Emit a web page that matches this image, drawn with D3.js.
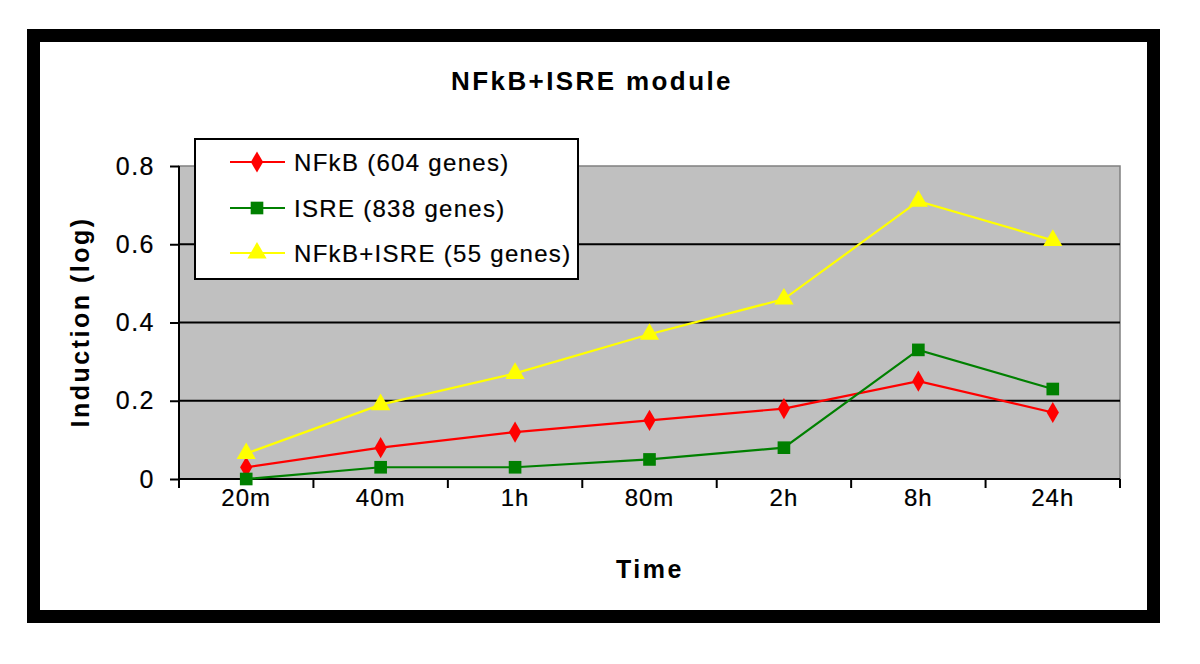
<!DOCTYPE html>
<html>
<head>
<meta charset="utf-8">
<script src="https://cdn.jsdelivr.net/npm/d3@7"></script>
<style>
  html, body { margin: 0; padding: 0; background: #ffffff; }
  svg { display: block; }
  text { font-family: "Liberation Sans", Arial, sans-serif; }
</style>
</head>
<body>
<svg id="chart" width="1200" height="664"></svg>
<script>
// ---- Data ----
const categories = ["20m", "40m", "1h", "80m", "2h", "8h", "24h"];
const nfkbValues = [0.03, 0.08, 0.12, 0.15, 0.18, 0.25, 0.17];
const isreValues = [0.0, 0.03, 0.03, 0.05, 0.08, 0.33, 0.23];
const bothValues = [0.065, 0.19, 0.27, 0.37, 0.46, 0.71, 0.61];
const yTickValues = [0, 0.2, 0.4, 0.6, 0.8];
const seriesNames = ["NFkB (604 genes)", "ISRE (838 genes)", "NFkB+ISRE (55 genes)"];
const chartTitle = "NFkB+ISRE module";
const xTitle = "Time";
const yTitle = "Induction (log)";

// ---- Layout ----
const W = 1200, H = 664;
const plot = { left: 179, right: 1120, top: 166, bottom: 479 };

const svg = d3.select("#chart");

svg.append("rect").attr("x", 0).attr("y", 0).attr("width", W).attr("height", H).attr("fill", "#ffffff");

// outer black frame
svg.append("rect")
  .attr("x", 33.5).attr("y", 35.5).attr("width", 1120).attr("height", 581)
  .attr("fill", "none").attr("stroke", "#000").attr("stroke-width", 13);

const x = d3.scaleBand().domain(categories).range([plot.left, plot.right]).padding(0);
const y = d3.scaleLinear().domain([0, 0.8]).range([plot.bottom, plot.top]);
const cx = d => x(d) + x.bandwidth() / 2;

// plot area
svg.append("rect")
  .attr("x", plot.left).attr("y", plot.top)
  .attr("width", plot.right - plot.left).attr("height", plot.bottom - plot.top)
  .attr("fill", "#c0c0c0").attr("stroke", "#808080").attr("stroke-width", 1.5);

// gridlines
svg.append("g").selectAll("line")
  .data(yTickValues.filter(v => v > 0 && v < 0.8))
  .join("line")
  .attr("x1", plot.left).attr("x2", plot.right)
  .attr("y1", d => y(d)).attr("y2", d => y(d))
  .attr("stroke", "#000").attr("stroke-width", 2);

const normalText = sel => sel
  .attr("fill", "#000").attr("stroke", "#000").attr("stroke-width", 0.2)
  .style("font-family", "'Liberation Sans', Arial, sans-serif");

// y axis
const yAxis = svg.append("g")
  .attr("transform", `translate(${plot.left},0)`)
  .call(d3.axisLeft(y).tickValues(yTickValues).tickFormat(d3.format("")).tickSize(9).tickPadding(15));
yAxis.select(".domain").attr("stroke", "#000").attr("stroke-width", 2).attr("d", `M0,${plot.top}V${plot.bottom}`);
yAxis.selectAll(".tick line").attr("stroke", "#000").attr("stroke-width", 2);
yAxis.selectAll(".tick text").call(normalText)
  .style("font-size", "25px").style("letter-spacing", "1.5px");

// x axis
const xAxis = svg.append("g")
  .attr("transform", `translate(0,${plot.bottom})`)
  .call(d3.axisBottom(x).tickSize(0).tickPadding(10));
xAxis.select(".domain").attr("stroke", "#000").attr("stroke-width", 2).attr("d", `M${plot.left},0H${plot.right}`);
xAxis.selectAll(".tick text").call(normalText)
  .style("font-size", "24px").style("letter-spacing", "1px");
// category boundary ticks
const bounds = categories.map(c => x(c)).concat([plot.right]);
xAxis.append("g").selectAll("line").data(bounds).join("line")
  .attr("x1", d => d).attr("x2", d => d).attr("y1", 0).attr("y2", 9)
  .attr("stroke", "#000").attr("stroke-width", 2);

// series
const series = [
  { name: seriesNames[0], values: nfkbValues, color: "#ff0000", shape: d3.symbolDiamond, size: 130 },
  { name: seriesNames[1], values: isreValues, color: "#008000", shape: d3.symbolSquare, size: 160 },
  { name: seriesNames[2], values: bothValues, color: "#ffff00", shape: d3.symbolTriangle, size: 160 }
];

const line = d3.line().x((d, i) => cx(categories[i])).y(d => y(d));

series.forEach(s => {
  svg.append("path").datum(s.values)
    .attr("d", line).attr("fill", "none").attr("stroke", s.color).attr("stroke-width", 2.2);
});
series.forEach(s => {
  svg.append("g").selectAll("path").data(s.values).join("path")
    .attr("transform", (d, i) => `translate(${cx(categories[i])},${y(d)})`)
    .attr("d", d3.symbol().type(s.shape).size(s.size))
    .attr("fill", s.color);
});

// legend
const lg = svg.append("g");
lg.append("rect").attr("x", 195).attr("y", 139).attr("width", 383).attr("height", 140)
  .attr("fill", "#ffffff").attr("stroke", "#000").attr("stroke-width", 2);
const rowY = [162, 208, 253];
series.forEach((s, i) => {
  lg.append("line").attr("x1", 230).attr("x2", 285).attr("y1", rowY[i]).attr("y2", rowY[i])
    .attr("stroke", s.color).attr("stroke-width", 2.2);
  lg.append("path").attr("transform", `translate(257,${rowY[i]})`)
    .attr("d", d3.symbol().type(s.shape).size(s.size)).attr("fill", s.color);
  lg.append("text").attr("x", 294).attr("y", rowY[i]).attr("dy", "0.36em")
    .call(normalText)
    .style("font-size", "24px").style("letter-spacing", "1.3px")
    .text(s.name);
});

// titles
const boldText = sel => sel.attr("fill", "#000").style("font-weight", "bold")
  .style("font-family", "'Liberation Sans', Arial, sans-serif");
svg.append("text").attr("x", 592).attr("y", 90).attr("text-anchor", "middle")
  .call(boldText).style("font-size", "26px").style("letter-spacing", "2.4px")
  .text(chartTitle);
svg.append("text").attr("x", 650).attr("y", 578).attr("text-anchor", "middle")
  .call(boldText).style("font-size", "25px").style("letter-spacing", "2.5px")
  .text(xTitle);
svg.append("text").attr("transform", "translate(89,322) rotate(-90)").attr("text-anchor", "middle")
  .call(boldText).style("font-size", "25px").style("letter-spacing", "2.5px")
  .text(yTitle);
</script>
</body>
</html>
